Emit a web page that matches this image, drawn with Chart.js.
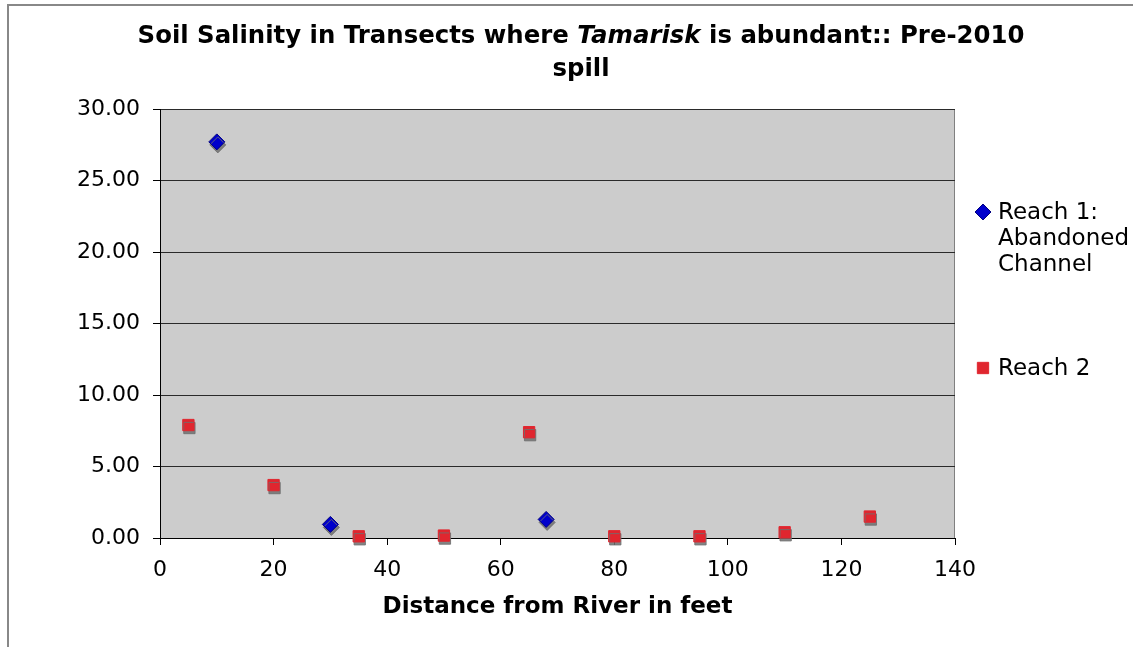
<!DOCTYPE html>
<html><head><meta charset="utf-8">
<script src="https://cdn.jsdelivr.net/npm/chart.js@4.4.0/dist/chart.umd.min.js"></script>
<style>html,body{margin:0;padding:0;background:#fff;}#wrap{width:1133px;height:647px;position:relative;}</style>
</head><body><div id="wrap"><canvas id="c" width="1133" height="647"></canvas></div>
<script>
const reach1X = [10, 30, 68];
const reach1Y = [27.7, 0.95, 1.3];
const reach2X = [5, 20, 35, 50, 65, 80, 95, 110, 125];
const reach2Y = [7.9, 3.7, 0.12, 0.17, 7.4, 0.12, 0.12, 0.4, 1.5];
const seriesNames = ["Reach 1: Abandoned Channel", "Reach 2"];
const legendLines = [["Reach 1:", "Abandoned", "Channel"], ["Reach 2"]];
const titleLine1 = [["Soil Salinity in Transects where ", false], ["Tamarisk", true], [" is abundant:: Pre-2010", false]];
const titleLine2 = "spill";
const xAxisTitle = "Distance from River in feet";
const xMin = 0, xMax = 140, xStep = 20;
const yMin = 0, yMax = 30, yStep = 5;

const FONT = "'DejaVu Sans', Verdana, sans-serif";
const BLUE = '#0000cc', BLUE_EDGE = '#000080', RED = '#e0262f';

const bgPlugin = {
  id: 'bg',
  beforeDraw(chart) {
    const {ctx, chartArea: a} = chart;
    ctx.save();
    ctx.fillStyle = '#fff';
    ctx.fillRect(0, 0, chart.width, chart.height);
    ctx.strokeStyle = '#888';
    ctx.lineWidth = 2;
    ctx.beginPath();
    ctx.moveTo(8, chart.height); ctx.lineTo(8, 5); ctx.lineTo(chart.width, 5);
    ctx.stroke();
    ctx.fillStyle = '#cccccc';
    ctx.fillRect(a.left, a.top, a.right - a.left, a.bottom - a.top);
    ctx.strokeStyle = '#808080';
    ctx.lineWidth = 1;
    ctx.beginPath();
    ctx.moveTo(a.left, a.top + 0.5); ctx.lineTo(a.right - 0.5, a.top + 0.5); ctx.lineTo(a.right - 0.5, a.bottom);
    ctx.stroke();
    ctx.restore();
  }
};

const shadowPlugin = {
  id: 'shadow',
  beforeDatasetsDraw(chart) {
    const ctx = chart.ctx;
    ctx.save();
    ctx.shadowColor = 'rgba(110,110,110,0.85)';
    ctx.shadowOffsetX = 1;
    ctx.shadowOffsetY = 3;
    ctx.shadowBlur = 0;
  },
  afterDatasetsDraw(chart) { chart.ctx.restore(); }
};

const textPlugin = {
  id: 'texts',
  afterDraw(chart) {
    const ctx = chart.ctx;
    ctx.save();
    ctx.fillStyle = '#000';
    ctx.textBaseline = 'middle';
    // title
    const size = 24.4;
    const fonts = titleLine1.map(p => (p[1] ? 'italic ' : '') + 'bold ' + size + 'px ' + FONT);
    let total = 0;
    const widths = titleLine1.map((p, i) => { ctx.font = fonts[i]; const w = ctx.measureText(p[0]).width; total += w; return w; });
    const cx = 581;
    let x = cx - total / 2;
    titleLine1.forEach((p, i) => { ctx.font = fonts[i]; ctx.textAlign = 'left'; ctx.fillText(p[0], x, 37); x += widths[i]; });
    ctx.font = 'bold ' + size + 'px ' + FONT;
    ctx.textAlign = 'center';
    ctx.fillText(titleLine2, cx, 70);
    // legend
    ctx.textAlign = 'left';
    ctx.font = '23px ' + FONT;
    const entries = [
      {style: 'rectRot', fill: BLUE, edge: BLUE_EDGE, y: 212, lines: legendLines[0]},
      {style: 'rect', fill: RED, edge: RED, y: 368, lines: legendLines[1]}
    ];
    entries.forEach(e => {
      ctx.fillStyle = e.fill;
      ctx.strokeStyle = e.edge;
      ctx.lineWidth = 1;
      Chart.helpers.drawPoint(ctx, {pointStyle: e.style, radius: 8, rotation: 0, borderWidth: 1}, 983, e.y);
      ctx.fillStyle = '#000';
      e.lines.forEach((l, i) => ctx.fillText(l, 998, e.y + 1 + i * 26));
    });
    ctx.restore();
  }
};

new Chart(document.getElementById('c'), {
  type: 'scatter',
  data: {
    datasets: [
      {
        label: seriesNames[0],
        data: reach1X.map((v, i) => ({x: v, y: reach1Y[i]})),
        pointStyle: 'rectRot', pointRadius: 8, pointHoverRadius: 8,
        backgroundColor: BLUE, borderColor: BLUE_EDGE, borderWidth: 1, clip: false
      },
      {
        label: seriesNames[1],
        data: reach2X.map((v, i) => ({x: v, y: reach2Y[i]})),
        pointStyle: 'rect', pointRadius: 8, pointHoverRadius: 8,
        backgroundColor: RED, borderColor: RED, borderWidth: 1, clip: false
      }
    ]
  },
  options: {
    responsive: false,
    animation: false,
    devicePixelRatio: 1,
    layout: {padding: {left: 0, top: 109, right: 178, bottom: 0}},
    plugins: {legend: {display: false}, title: {display: false}, tooltip: {enabled: false}},
    scales: {
      x: {
        type: 'linear', min: xMin, max: xMax,
        ticks: {stepSize: xStep, color: '#000', font: {family: FONT, size: 22}, padding: 12, maxRotation: 0},
        grid: {drawOnChartArea: false, drawTicks: true, tickLength: 7, color: '#000'},
        border: {color: '#000', width: 1},
        title: {display: true, text: xAxisTitle, color: '#000', font: {family: FONT, size: 23, weight: 'bold'}, padding: {top: 0, bottom: 26}},
        afterFit(s) { s.height = 109; }
      },
      y: {
        type: 'linear', min: yMin, max: yMax,
        ticks: {stepSize: yStep, color: '#000', font: {family: FONT, size: 22}, padding: 13, callback: v => Number(v).toFixed(2)},
        grid: {color: '#2a2a2a', tickLength: 7, tickColor: '#000'},
        border: {color: '#000', width: 1},
        afterFit(s) { s.width = 160; }
      }
    }
  },
  plugins: [bgPlugin, shadowPlugin, textPlugin]
});
</script></body></html>
